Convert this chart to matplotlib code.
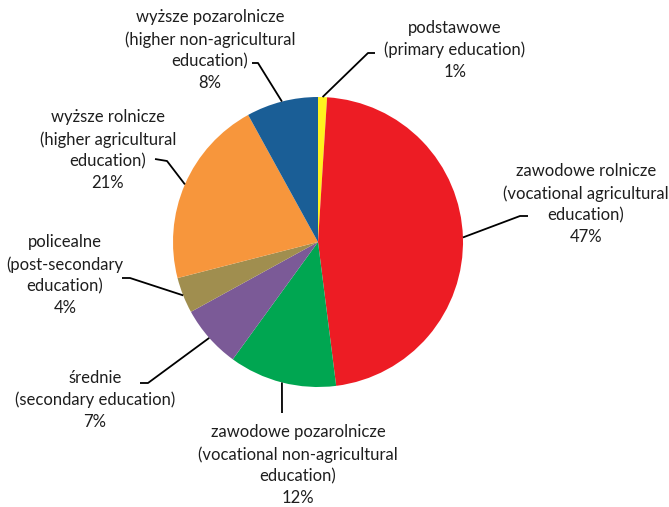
import matplotlib
matplotlib.use("Agg")
import matplotlib.pyplot as plt
import numpy as np

labels = [
    "podstawowe\n(primary education)\n1%",
    "zawodowe rolnicze\n(vocational agricultural\neducation)\n47%",
    "zawodowe pozarolnicze\n(vocational non-agricultural\neducation)\n12%",
    "średnie\n(secondary education)\n7%",
    "policealne\n(post-secondary\neducation)\n4%",
    "wyższe rolnicze\n(higher agricultural\neducation)\n21%",
    "wyższe pozarolnicze\n(higher non-agricultural\neducation)\n8%",
]
values = [1, 47, 12, 7, 4, 21, 8]
colors = ["#FFF21E", "#ED1C24", "#00A651", "#7B5A97", "#A08E4F", "#F7963C", "#1A5E96"]

W, H = 669, 507
def py(y):
    return H - y

# layout: text centre (pixel coords), elbow point, short horizontal end
text_pos = [(455, 50), (586, 204), (298, 465), (95, 400), (65, 275), (108, 150), (210, 50)]
elbows = [((368, 53), (375, 53)),
          ((520, 216), (528, 216)),
          ((282, 413), None),
          ((148, 383), (140, 383)),
          ((130, 278), (122, 278)),
          ((167, 161), (155, 159)),
          ((258, 63), (252, 63))]

plt.rcParams['font.family'] = ['Lato', 'DejaVu Sans']
fig = plt.figure(figsize=(W / 100, H / 100), dpi=100)
ax = fig.add_axes([0, 0, 1, 1])
wedges, _ = ax.pie(values, colors=colors, startangle=90, counterclock=False,
                   center=(318, py(242)), radius=145, frame=True,
                   wedgeprops=dict(linewidth=0))
ax.set_xlim(0, W)
ax.set_ylim(0, H)
ax.set_aspect('equal')
ax.axis('off')

for w, lab, tp, (el, end) in zip(wedges, labels, text_pos, elbows):
    mid = np.deg2rad((w.theta1 + w.theta2) / 2)
    cx, cy = w.center
    sx, sy = cx + w.r * np.cos(mid), cy + w.r * np.sin(mid)
    xs = [sx, el[0]]
    ys = [sy, py(el[1])]
    if end is not None:
        xs.append(end[0]); ys.append(py(end[1]))
    ax.plot(xs, ys, color="black", lw=1.3, solid_capstyle='butt')
    ax.text(tp[0], py(tp[1]), lab, ha='center', va='center', fontsize=12,
            linespacing=1.42, color="#1e1e1e")

fig.savefig("out.png", dpi=100)
